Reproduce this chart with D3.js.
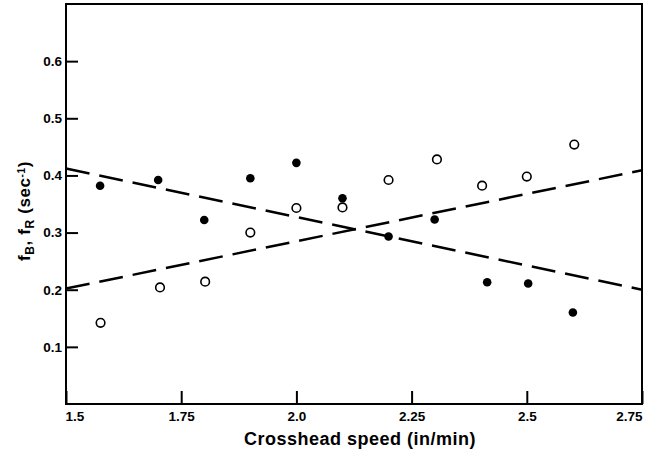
<!DOCTYPE html>
<html>
<head>
<meta charset="utf-8">
<script src="https://d3js.org/d3.v7.min.js"></script>
<style>
body { margin: 0; background: #fff; }
text { font-family: "Liberation Sans", Arial, sans-serif; font-weight: bold; fill: #000; }
.axis text { font-size: 13.5px; }
.axis line { stroke: #000; stroke-width: 2px; }
.frame { fill: none; stroke: #000; stroke-width: 2px; }
.fit { fill: none; stroke: #000; stroke-width: 2.5px; stroke-dasharray: 24,10; }
</style>
</head>
<body>
<script>

// crosshead speed (in/min) of each test
var speedB = [1.574, 1.70, 1.80, 1.90, 2.0, 2.10, 2.20, 2.30, 2.414, 2.503, 2.60];
var fB     = [0.382, 0.392, 0.322, 0.395, 0.422, 0.360, 0.293, 0.323, 0.213, 0.211, 0.160];

var speedR = [1.575, 1.704, 1.802, 1.90, 2.0, 2.10, 2.20, 2.305, 2.403, 2.50, 2.603];
var fR     = [0.142, 0.204, 0.214, 0.300, 0.343, 0.344, 0.392, 0.428, 0.382, 0.398, 0.454];

// dashed fit lines, end points
var fitB = [[1.5, 0.412], [2.75, 0.200]];
var fitR = [[1.5, 0.202], [2.75, 0.409]];

var xTicks = [1.5, 1.75, 2.0, 2.25, 2.5, 2.75];
var xTickLabels = ["1.5", "1.75", "2.0", "2.25", "2.5", "2.75"];
var yTicks = [0.1, 0.2, 0.3, 0.4, 0.5, 0.6];

var margin = {top: 4, right: 4, bottom: 51, left: 66};
var width = 646 - margin.left - margin.right,
    height = 455 - margin.top - margin.bottom;

var svg = d3.select("body").append("svg")
    .attr("width", 646)
    .attr("height", 455)
  .append("g")
    .attr("transform", "translate(" + margin.left + "," + margin.top + ")");

var x = d3.scaleLinear().domain([1.5, 2.75]).range([0, width]);
var y = d3.scaleLinear().domain([0, 0.7]).range([height, 0]);

var xAxis = d3.axisBottom(x)
    .tickValues(xTicks)
    .tickFormat(function(d, i) { return xTickLabels[i]; })
    .tickSize(-13)
    .tickPadding(7);

var yAxis = d3.axisLeft(y)
    .tickValues(yTicks)
    .tickFormat(d3.format(".1f"))
    .tickSize(-12)
    .tickPadding(4);

var gx = svg.append("g")
    .attr("class", "x axis")
    .attr("transform", "translate(0," + height + ")")
    .call(xAxis);
gx.select(".domain").remove();
gx.selectAll(".tick text")
    .style("text-anchor", function(d, i) {
        if (i == 0) return "start";
        if (i == xTicks.length - 1) return "end";
        return "middle";
    })
    .attr("dx", function(d, i) { return i == 0 ? -1 : 0; });

var gy = svg.append("g")
    .attr("class", "y axis")
    .call(yAxis);
gy.select(".domain").remove();

svg.append("rect")
    .attr("class", "frame")
    .attr("width", width)
    .attr("height", height);

var line = d3.line()
    .x(function(d) { return x(d[0]); })
    .y(function(d) { return y(d[1]); });

svg.append("path").attr("class", "fit").attr("d", line(fitB));
svg.append("path").attr("class", "fit").attr("d", line(fitR));

svg.selectAll(".ptB")
    .data(d3.zip(speedB, fB))
  .enter().append("circle")
    .attr("class", "ptB")
    .attr("cx", function(d) { return x(d[0]); })
    .attr("cy", function(d) { return y(d[1]); })
    .attr("r", 4.3)
    .style("fill", "#000");

svg.selectAll(".ptR")
    .data(d3.zip(speedR, fR))
  .enter().append("circle")
    .attr("class", "ptR")
    .attr("cx", function(d) { return x(d[0]); })
    .attr("cy", function(d) { return y(d[1]); })
    .attr("r", 4.3)
    .style("fill", "#fff")
    .style("stroke", "#000")
    .style("stroke-width", 1.6);

// axis titles
svg.append("text")
    .attr("x", 360 - margin.left)
    .attr("y", height + 41)
    .style("text-anchor", "middle")
    .style("font-size", "18px")
    .style("letter-spacing", "0.5px")
    .text("Crosshead speed (in/min)");

var yt = svg.append("text")
    .attr("transform", "translate(-36," + (211 - margin.top) + ") rotate(-90)")
    .style("text-anchor", "middle")
    .style("font-size", "17px")
    .style("letter-spacing", "0.6px");
yt.append("tspan").text("f");
yt.append("tspan").attr("baseline-shift", "-30%").style("font-size", "12px").text("B");
yt.append("tspan").text(", f");
yt.append("tspan").attr("baseline-shift", "-30%").style("font-size", "12px").text("R");
yt.append("tspan").text(" (sec");
yt.append("tspan").attr("baseline-shift", "50%").style("font-size", "10px").text("-1");
yt.append("tspan").text(")");

</script>
</body>
</html>
